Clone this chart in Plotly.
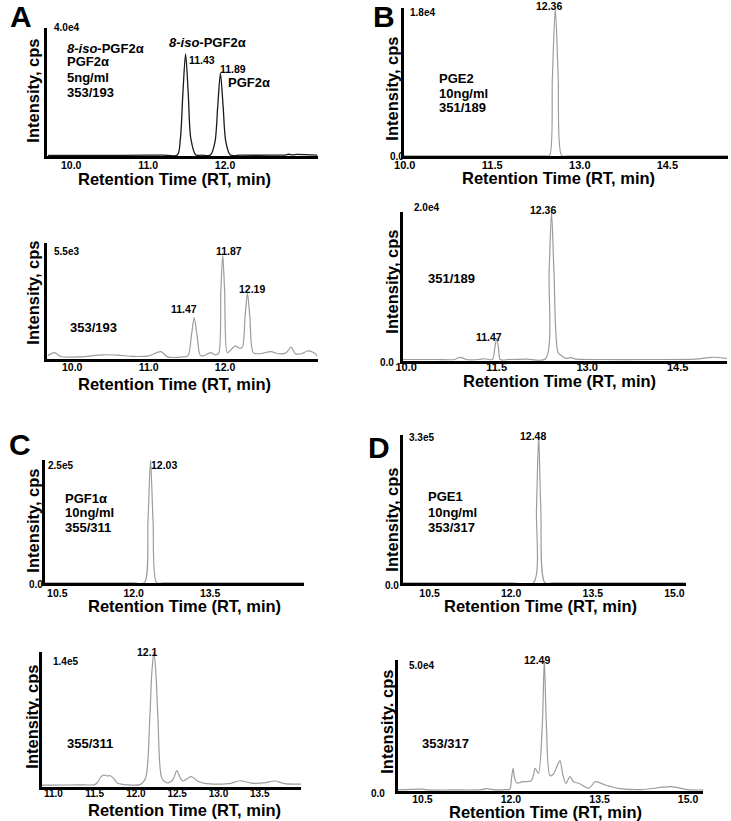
import plotly.graph_objects as go

W, H = 731, 821
FONT = "Liberation Sans, Arial, sans-serif"

# ---------------- data (retention time in min, intensity in cps) ----------------
# A, standard 5 ng/ml, 353/193
a1_rt = [9.70, 10.40, 11.00, 11.20, 11.38, 11.42, 11.452, 11.487, 11.522, 11.555, 11.62, 11.70,
         11.81, 11.87, 11.905, 11.94, 11.975, 12.01, 12.07, 12.20, 12.60, 12.78, 12.83, 12.88, 12.93, 13.20]
a1_int = [200, 200, 250, 300, 300, 5500, 19500, 31900, 19500, 5500, 300, 250,
          300, 4500, 15500, 25900, 15500, 4500, 300, 250, 250, 300, 550, 350, 500, 250]

# A, sample, 353/193
a2_rt = [9.68, 9.77, 9.85, 10.10, 10.40, 10.60, 10.80, 11.00, 11.16, 11.25, 11.45, 11.515, 11.56,
         11.596, 11.635, 11.675, 11.72, 11.81, 11.87, 11.915, 11.945, 11.97, 11.995, 12.03, 12.08,
         12.133, 12.177, 12.225, 12.262, 12.293, 12.325, 12.37, 12.45, 12.60, 12.70, 12.80, 12.865,
         12.92, 13.00, 13.08, 13.15, 13.21]
a2_int = [150, 300, 120, 100, 200, 180, 120, 150, 350, 100, 100, 150, 1100,
          1960, 1100, 180, 150, 300, 200, 250, 3200, 4930, 3200, 300, 450,
          620, 520, 550, 2000, 3110, 2000, 300, 250, 350, 250, 300, 560,
          250, 250, 380, 320, 150]

# B, PGE2 10 ng/ml, 351/189
b1_rt = [9.98, 11.00, 12.00, 12.40, 12.48, 12.53, 12.58, 12.63, 12.69, 12.80, 13.50, 14.50, 15.54]
b1_int = [30, 30, 30, 30, 40, 9500, 18000, 9500, 40, 30, 30, 30, 30]

# B, sample, 351/189
b2_rt = [9.94, 10.50, 10.80, 10.90, 11.00, 11.20, 11.30, 11.43, 11.47, 11.50, 11.53, 11.56, 11.70,
         12.00, 12.31, 12.37, 12.41, 12.45, 12.52, 12.58, 12.65, 12.73, 12.82, 13.20, 14.00, 14.80,
         15.07, 15.32]
b2_int = [200, 200, 200, 500, 200, 200, 300, 200, 1800, 3050, 1800, 200, 200,
          250, 300, 12000, 20000, 12000, 1100, 700, 350, 440, 250, 200, 200, 250,
          500, 350]

# C, PGF1a 10 ng/ml, 355/311
c1_rt = [10.25, 11.00, 12.00, 12.21, 12.28, 12.33, 12.38, 12.45, 12.60, 13.50, 15.34]
c1_int = [300, 300, 300, 500, 125000, 250000, 125000, 500, 300, 300, 300]

# C, sample, 355/311
c2_rt = [10.86, 11.00, 11.30, 11.50, 11.53, 11.58, 11.61, 11.65, 11.69, 11.73, 11.77, 11.85, 11.95,
         12.05, 12.116, 12.167, 12.192, 12.217, 12.242, 12.267, 12.31, 12.36, 12.40, 12.45, 12.495,
         12.54, 12.57, 12.62, 12.67, 12.75, 12.83, 13.00, 13.15, 13.26, 13.40, 13.55, 13.68, 13.80, 14.00]
c2_int = [2000, 2000, 2200, 2500, 4400, 11000, 12400, 11500, 11700, 9000, 4400, 2500, 2000,
          2500, 9000, 70000, 118000, 140000, 118000, 70000, 10000, 5000, 4500, 8000, 16900,
          9000, 6200, 8500, 10700, 6000, 3800, 3000, 3800, 6500, 4000, 4200, 6200, 3500, 3000]

# D, PGE1 10 ng/ml, 353/317
d1_rt = [10.005, 11.00, 12.00, 12.41, 12.465, 12.505, 12.545, 12.62, 12.80, 14.00, 15.205]
d1_int = [500, 500, 500, 600, 165000, 330000, 165000, 600, 500, 500, 500]

# D, sample, 353/317
d2_rt = [10.08, 10.50, 10.60, 11.00, 11.50, 11.58, 11.70, 11.90, 11.98, 12.01, 12.035, 12.06, 12.10,
         12.20, 12.34, 12.38, 12.41, 12.465, 12.53, 12.565, 12.60, 12.66, 12.72, 12.78, 12.83, 12.88,
         12.93, 13.00, 13.06, 13.15, 13.32, 13.43, 13.60, 13.82, 14.20, 14.71, 15.00, 15.26]
d2_int = [400, 700, 400, 400, 500, 900, 500, 500, 700, 5000, 8660, 5000, 3000,
          3550, 3800, 6000, 8660, 6740, 25000, 50000, 25000, 5850, 6500, 9500, 11570, 6000,
          2940, 5470, 3500, 2940, 1030, 3550, 2290, 1030, 500, 1640, 500, 400]

ticks_a = [10.0, 11.0, 12.0]
ticks_b = [10.0, 11.5, 13.0, 14.5]
ticks_c1 = [10.5, 12.0, 13.5]
ticks_c2 = [11.0, 11.5, 12.0, 12.5, 13.0, 13.5]
ticks_d = [10.5, 12.0, 13.5, 15.0]

BLACK = "#1a1a1a"
GRAY = "#9c9c9c"

# panel geometry in pixels: (x0, x1, ytop, ybottom), x range, y max, tick-label standoff
panels = [
    dict(rt=a1_rt, it=a1_int, col=BLACK, lw=1.3, box=(38, 312, 28, 156), xr=(9.692, 13.205), ymax=4.0e4, tk=ticks_a, tfs=10.5, so=-3),
    dict(rt=a2_rt, it=a2_int, col=GRAY, lw=1.2, box=(38, 312, 243, 359), xr=(9.677, 13.213), ymax=5.5e3, tk=ticks_a, tfs=10.5, so=-4),
    dict(rt=b1_rt, it=b1_int, col=GRAY, lw=1.2, box=(399, 728, 8, 156), xr=(9.98, 15.54), ymax=1.8e4, tk=ticks_b, tfs=11, so=-3),
    dict(rt=b2_rt, it=b2_int, col=GRAY, lw=1.2, box=(398, 727, 212, 361), xr=(9.94, 15.32), ymax=2.0e4, tk=ticks_b, tfs=11, so=-6),
    dict(rt=c1_rt, it=c1_int, col=GRAY, lw=1.2, box=(35, 298, 460, 583), xr=(10.25, 15.34), ymax=2.5e5, tk=ticks_c1, tfs=10.5, so=-2),
    dict(rt=c2_rt, it=c2_int, col=GRAY, lw=1.2, box=(32, 295, 652, 787), xr=(10.856, 14.0), ymax=1.4e5, tk=ticks_c2, tfs=10, so=-5),
    dict(rt=d1_rt, it=d1_int, col=GRAY, lw=1.2, box=(398, 685, 435, 583), xr=(10.005, 15.205), ymax=3.3e5, tk=ticks_d, tfs=10.5, so=-2),
    dict(rt=d2_rt, it=d2_int, col=GRAY, lw=1.2, box=(393, 703, 660, 791), xr=(10.079, 15.26), ymax=5.0e4, tk=ticks_d, tfs=10.5, so=-4),
]

fig = go.Figure()
layout = dict(width=W, height=H, margin=dict(l=0, r=0, t=0, b=0),
              paper_bgcolor="white", plot_bgcolor="white", showlegend=False,
              font=dict(family=FONT, color="black"))

for i, p in enumerate(panels, start=1):
    sx = "" if i == 1 else str(i)
    fig.add_trace(go.Scatter(x=p["rt"], y=p["it"], mode="lines",
                             line=dict(color=p["col"], width=p["lw"], shape="spline", smoothing=0.8),
                             xaxis="x" + sx, yaxis="y" + sx, hoverinfo="skip"))
    x0, x1, yt, yb = p["box"]
    layout["xaxis" + sx] = dict(domain=[x0 / W, x1 / W], range=list(p["xr"]), anchor="y" + sx,
                                showline=True, linewidth=3, linecolor="black", showgrid=False,
                                zeroline=False, ticks="", tickvals=p["tk"], ticklabelstandoff=p["so"],
                                ticktext=["%.1f" % t for t in p["tk"]],
                                tickfont=dict(family=FONT, size=p["tfs"], color="black", weight="bold"))
    layout["yaxis" + sx] = dict(domain=[1 - yb / H, 1 - yt / H], range=[0, p["ymax"]], anchor="x" + sx,
                                showline=True, linewidth=3, linecolor="black", showgrid=False,
                                zeroline=False, showticklabels=False, ticks="")

ann = []


def txt(s, x, y, size, xa="center", angle=0):
    ann.append(dict(text="<b>" + s + "</b>", x=x / W, y=1 - y / H, xref="paper", yref="paper",
                    xanchor=xa, yanchor="middle", showarrow=False, textangle=angle,
                    font=dict(family=FONT, size=size, color="black")))


# panel letters
for s, x, y in [("A", 11, 16), ("B", 379, 16), ("C", 10, 444), ("D", 374, 447)]:
    txt(s, x, y, 30)

# axis titles
XT = "Retention Time (RT, min)"
for x, y in [(167, 179), (167, 384), (556, 178), (557, 381), (177, 606), (177, 810), (538, 606), (543, 812)]:
    txt(XT, x, y, 16.5)
for s, x, y in [("Intensity, cps", 23, 91), ("Intensity, cps", 23, 293), ("Intensity, cps", 387, 89),
                ("Intensity, cps", 387, 282), ("Intensity, cps", 23, 521), ("Intensity, cps", 22, 717),
                ("Intensity, cps", 387, 520), ("Intensity. cps", 382, 722)]:
    txt(s, x, y, 16.5, angle=-90)

# scale labels
for s, x, y, xa in [("4.0e4", 43, 28, "left"), ("5.5e3", 43, 252, "left"), ("1.8e4", 404, 12, "left"),
                    ("2.0e4", 408, 207, "left"), ("2.5e5", 37, 465, "left"), ("1.4e5", 42, 661, "left"),
                    ("3.3e5", 402, 437, "left"), ("5.0e4", 403, 665, "left"),
                    ("0.0", 401, 157, "right"), ("0.0", 391, 362, "right"), ("0.0", 35, 584, "right"),
                    ("0.0", 396, 585, "right"), ("0.0", 382, 793, "right")]:
    txt(s, x, y, 10, xa)

# peak retention-time labels
for s, x, y in [("11.43", 195, 60), ("11.89", 226, 69), ("11.87", 222, 251), ("12.19", 245, 289),
                ("11.47", 176, 309), ("12.36", 546, 6), ("12.36", 540, 210), ("11.47", 486, 337),
                ("12.03", 156, 465), ("12.1", 139, 652), ("12.48", 530, 436), ("12.49", 534, 660)]:
    txt(s, x, y, 10.5)

# compound / transition labels
for s, x, y, xa in [("<i>8-iso</i>-PGF2α", 56, 48, "left"), ("PGF2α", 56, 62, "left"),
                    ("5ng/ml", 56, 77, "left"), ("353/193", 56, 92, "left"),
                    ("<i>8-iso</i>-PGF2α", 200, 42, "center"), ("PGF2α", 242, 82, "center"),
                    ("353/193", 59, 327, "left"),
                    ("PGE2", 433, 79, "left"), ("10ng/ml", 433, 93, "left"), ("351/189", 433, 108, "left"),
                    ("351/189", 422, 278, "left"),
                    ("PGF1α", 54, 498, "left"), ("10ng/ml", 54, 512, "left"), ("355/311", 54, 527, "left"),
                    ("355/311", 56, 743, "left"),
                    ("PGE1", 422, 497, "left"), ("10ng/ml", 422, 512, "left"), ("353/317", 422, 527, "left"),
                    ("353/317", 416, 743, "left")]:
    txt(s, x, y, 13, xa)

layout["annotations"] = ann
fig.update_layout(**layout)
fig.write_html("out.html", config={"displayModeBar": False},
               post_script="document.body.style.margin='0px';document.body.style.overflow='hidden';")
